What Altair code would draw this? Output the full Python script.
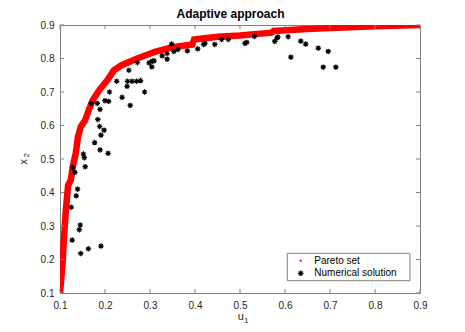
import altair as alt
import pandas as pd

# ---- data ----
pareto_u = [0.100, 0.1055, 0.109, 0.113, 0.118, 0.124, 0.129, 0.135, 0.140, 0.146,
            0.156, 0.164, 0.173, 0.187, 0.205, 0.220, 0.237, 0.273, 0.311, 0.350,
            0.394, 0.398, 0.450, 0.500, 0.570, 0.575, 0.650, 0.700, 0.800, 0.900]
pareto_x = [0.100, 0.184, 0.268, 0.348, 0.422, 0.437, 0.482, 0.517, 0.567, 0.596,
            0.616, 0.646, 0.676, 0.705, 0.735, 0.765, 0.780, 0.801, 0.820, 0.834,
            0.842, 0.857, 0.865, 0.869, 0.877, 0.882, 0.888, 0.891, 0.896, 0.900]

num_u = [0.348, 0.272, 0.253, 0.298, 0.305, 0.309, 0.304, 0.327, 0.338, 0.338,
         0.353, 0.362, 0.383, 0.406, 0.419, 0.422, 0.444, 0.459, 0.474, 0.511,
         0.515, 0.226, 0.250, 0.260, 0.270, 0.279, 0.249, 0.288, 0.210, 0.238,
         0.256, 0.200, 0.208, 0.183, 0.169, 0.189, 0.184, 0.188, 0.198, 0.191,
         0.177, 0.189, 0.207, 0.152, 0.154, 0.156, 0.128, 0.133, 0.139, 0.136,
         0.125, 0.145, 0.143, 0.127, 0.163, 0.191, 0.146, 0.532, 0.577, 0.582,
         0.584, 0.607, 0.613, 0.635, 0.646, 0.674, 0.696, 0.685, 0.713]
num_x = [0.843, 0.788, 0.765, 0.787, 0.792, 0.793, 0.775, 0.808, 0.815, 0.798,
         0.821, 0.827, 0.823, 0.829, 0.842, 0.845, 0.842, 0.857, 0.857, 0.845,
         0.848, 0.732, 0.732, 0.732, 0.732, 0.734, 0.717, 0.700, 0.700, 0.684,
         0.660, 0.674, 0.672, 0.666, 0.666, 0.648, 0.618, 0.597, 0.586, 0.571,
         0.549, 0.527, 0.517, 0.515, 0.504, 0.477, 0.474, 0.460, 0.410, 0.390,
         0.356, 0.303, 0.289, 0.258, 0.232, 0.240, 0.218, 0.866, 0.851, 0.861,
         0.864, 0.865, 0.804, 0.852, 0.843, 0.831, 0.821, 0.774, 0.774]

tick_values = [0.1, 0.2, 0.3, 0.4, 0.5, 0.6, 0.7, 0.8, 0.9]
legend_labels = ["Pareto set", "Numerical solution"]
title_text = "Adaptive approach"

# ---- chart ----
W, H = 360, 268
FONT = "Liberation Sans"
TXT = "#262626"
GRAY = "#808080"
STAR = "M-1,0L1,0M0,-1L0,1M-0.7,-0.7L0.7,0.7M-0.7,0.7L0.7,-0.7"

pareto_df = pd.DataFrame({"u": pareto_u, "x": pareto_x, "i": range(len(pareto_u))})
num_df = pd.DataFrame({"u": num_u, "x": num_x})
ticks_df = pd.DataFrame({"v": tick_values})
one = pd.DataFrame({"a": [0]})

su = alt.Scale(domain=[0.1, 0.9], nice=False, zero=False)
sx = alt.Scale(domain=[0.1, 0.9], nice=False, zero=False)
ax_u = alt.Axis(values=tick_values, format=".1f", ticks=False, tickSize=0, domain=False,
                grid=False, labelPadding=7, labelFontSize=10, labelFlush=False,
                labelFont=FONT, labelColor=TXT, title="")
ax_x = alt.Axis(values=tick_values, format=".1f", ticks=False, tickSize=0, domain=False,
                grid=False, labelPadding=6, labelFontSize=10, labelFlush=False,
                labelFont=FONT, labelColor=TXT, title="")

X = alt.X("u:Q", scale=su, axis=ax_u)
Y = alt.Y("x:Q", scale=sx, axis=ax_x)
XT = alt.X("v:Q", scale=su, axis=ax_u)
YT = alt.Y("v:Q", scale=sx, axis=ax_x)

pareto = alt.Chart(pareto_df).mark_line(color="#ff0000", strokeWidth=6.5, clip=True).encode(
    x=X, y=Y, order="i:Q")
nums = alt.Chart(num_df).mark_point(shape=STAR, filled=False, color="black",
                                    strokeWidth=1.2, size=30, opacity=1).encode(x=X, y=Y)

tb = alt.Chart(ticks_df).mark_rule(color=GRAY).encode(x=XT, y=alt.value(H), y2=alt.value(H - 4))
tt = alt.Chart(ticks_df).mark_rule(color=GRAY).encode(x=XT, y=alt.value(0), y2=alt.value(4))
tl = alt.Chart(ticks_df).mark_rule(color=GRAY).encode(y=YT, x=alt.value(0), x2=alt.value(4))
tr = alt.Chart(ticks_df).mark_rule(color=GRAY).encode(y=YT, x=alt.value(W), x2=alt.value(W - 4))

title = alt.Chart(one).mark_text(text=title_text, font=FONT, fontSize=12, fontWeight="bold",
                                 color="black", align="center", baseline="alphabetic").encode(
    x=alt.value(170.5), y=alt.value(-7))

u_lab = alt.Chart(one).mark_text(text="u", font=FONT, fontSize=11, color=TXT,
                                 align="center", baseline="alphabetic").encode(
    x=alt.value(180.8), y=alt.value(295))
u_sub = alt.Chart(one).mark_text(text="1", font=FONT, fontSize=8, color=TXT,
                                 align="left", baseline="alphabetic").encode(
    x=alt.value(184), y=alt.value(297.5))
x_lab = alt.Chart(one).mark_text(text="x", font=FONT, fontSize=11, color=TXT, angle=270,
                                 align="center", baseline="alphabetic").encode(
    x=alt.value(-33.3), y=alt.value(136.7))
x_sub = alt.Chart(one).mark_text(text="2", font=FONT, fontSize=8, color=TXT, angle=270,
                                 align="left", baseline="alphabetic").encode(
    x=alt.value(-31.5), y=alt.value(132.5))

leg_box = alt.Chart(one).mark_rect(fill="white", stroke=GRAY, strokeWidth=1).encode(
    x=alt.value(227.3), x2=alt.value(350), y=alt.value(228.3), y2=alt.value(255.7))
leg_dot = alt.Chart(one).mark_square(color="#ff0000", size=4, opacity=1).encode(
    x=alt.value(240.7), y=alt.value(235.7))
leg_star = alt.Chart(one).mark_point(shape=STAR, filled=False, color="black",
                                     strokeWidth=1.2, size=30, opacity=1).encode(
    x=alt.value(240.7), y=alt.value(248.3))
leg_t1 = alt.Chart(one).mark_text(text=legend_labels[0], font=FONT, fontSize=10, color="black",
                                  align="left", baseline="middle").encode(
    x=alt.value(254.3), y=alt.value(235.7))
leg_t2 = alt.Chart(one).mark_text(text=legend_labels[1], font=FONT, fontSize=10, color="black",
                                  align="left", baseline="middle").encode(
    x=alt.value(254.3), y=alt.value(248.3))

chart = alt.layer(
    pareto, nums, tb, tt, tl, tr, title, u_lab, u_sub, x_lab, x_sub,
    leg_box, leg_dot, leg_star, leg_t1, leg_t2
).properties(
    width=W, height=H,
    padding={"left": 52, "top": 17, "right": 37, "bottom": 30},
    autosize=alt.AutoSizeParams(type="none"),
    background="white",
).configure_view(stroke=GRAY, strokeWidth=1)

chart.save("out.html", embed_options={"renderer": "svg", "actions": False})
